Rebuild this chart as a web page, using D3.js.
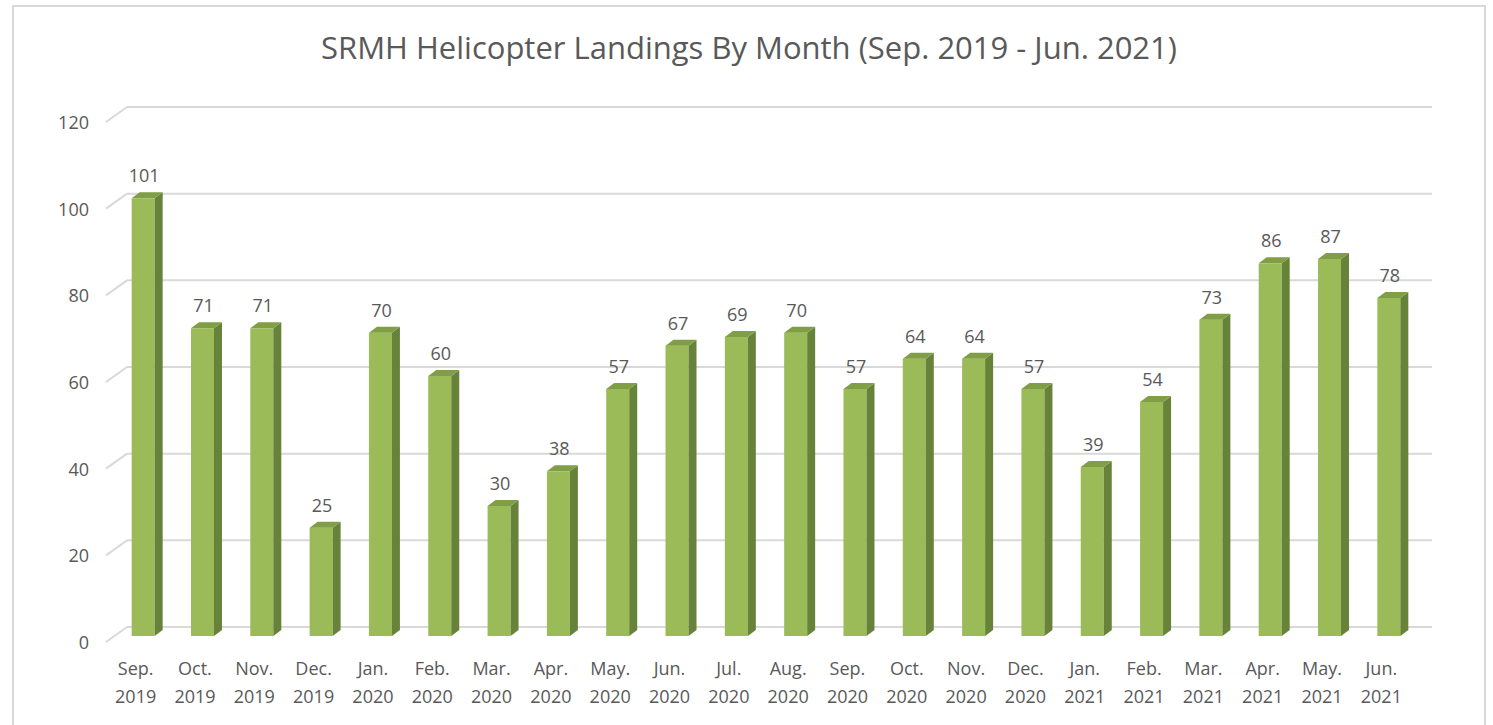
<!DOCTYPE html>
<html>
<head>
<meta charset="utf-8">
<script src="https://cdn.jsdelivr.net/npm/d3@7"></script>
<style>
  html, body { margin: 0; padding: 0; background: #fff; }
  svg { display: block; }
  text { font-family: "Open Sans", "Liberation Sans", sans-serif; fill: #595959; }
</style>
</head>
<body>
<svg id="chart" width="1493" height="725"></svg>
<script>
const monthLabels = ["Sep.", "Oct.", "Nov.", "Dec.", "Jan.", "Feb.", "Mar.", "Apr.", "May.", "Jun.", "Jul.", "Aug.",
                     "Sep.", "Oct.", "Nov.", "Dec.", "Jan.", "Feb.", "Mar.", "Apr.", "May.", "Jun."];
const yearLabels = ["2019", "2019", "2019", "2019", "2020", "2020", "2020", "2020", "2020", "2020", "2020", "2020",
                    "2020", "2020", "2020", "2020", "2021", "2021", "2021", "2021", "2021", "2021"];
const landings = [101, 71, 71, 25, 70, 60, 30, 38, 57, 67, 69, 70, 57, 64, 64, 57, 39, 54, 73, 86, 87, 78];
const yTicks = [0, 20, 40, 60, 80, 100, 120];
const chartTitle = "SRMH Helicopter Landings By Month (Sep. 2019 - Jun. 2021)";

const categories = monthLabels.map((m, i) => m + " " + yearLabels[i]);
const svg = d3.select("#chart");

// chart border
svg.append("rect").attr("x", 13).attr("y", 6).attr("width", 1472).attr("height", 740)
  .attr("fill", "#fff").attr("stroke", "#d9d9d9").attr("stroke-width", 2);

// 3D geometry
const depthX = 21, depthY = 15;
const frontLeft = 106, frontRight = 1411;
const floorFront = 642;
const floorBack = floorFront - depthY;
const barBase = 636;

const x = d3.scaleBand().domain(categories).range([frontLeft, frontRight]).paddingInner(0).paddingOuter(0);
const yBack = d3.scaleLinear().domain([0, 120]).range([floorBack, floorBack - 520]);
const yFront = d3.scaleLinear().domain([0, 120]).range([floorFront, floorFront - 520]);
const yBar = d3.scaleLinear().domain([0, 120]).range([barBase, barBase - 520]);

// gridlines (back wall + floor-side diagonal)
const grid = svg.append("g");
yTicks.forEach(t => {
  grid.append("line")
    .attr("x1", frontLeft + depthX).attr("x2", frontRight + depthX)
    .attr("y1", yBack(t)).attr("y2", yBack(t))
    .attr("stroke", "#d9d9d9").attr("stroke-width", 2);
  grid.append("line")
    .attr("x1", frontLeft).attr("x2", frontLeft + depthX)
    .attr("y1", yFront(t)).attr("y2", yBack(t))
    .attr("stroke", "#d9d9d9").attr("stroke-width", 2);
});

// y axis labels
svg.append("g").selectAll("text").data(yTicks).join("text")
  .attr("x", 89).attr("y", d => yFront(d))
  .attr("text-anchor", "end").attr("dominant-baseline", "central")
  .attr("font-size", 18).text(d => d);

// bars
const barW = 23, sideW = 8, topH = 6;
const barOffset = -4;
const bars = svg.append("g").selectAll("g").data(landings).join("g");
const bx = (d, i) => x(categories[i]) + x.bandwidth() / 2 + barOffset;

bars.append("rect")
  .attr("x", (d, i) => bx(d, i)).attr("y", d => yBar(d))
  .attr("width", barW).attr("height", d => yBar(0) - yBar(d))
  .attr("fill", "#9bbb59");
bars.append("path")
  .attr("d", (d, i) => {
    const x0 = bx(d, i) + barW, yt = yBar(d), yb = yBar(0);
    return `M${x0},${yt} L${x0 + sideW},${yt - topH} L${x0 + sideW},${yb - topH} L${x0},${yb} Z`;
  })
  .attr("fill", "#67833a");
bars.append("path")
  .attr("d", (d, i) => {
    const x0 = bx(d, i), yt = yBar(d);
    return `M${x0},${yt} L${x0 + sideW},${yt - topH} L${x0 + barW + sideW},${yt - topH} L${x0 + barW},${yt} Z`;
  })
  .attr("fill", "#7f9e45");

// data labels
bars.append("text")
  .attr("x", (d, i) => bx(d, i) + barW / 2 + 1)
  .attr("y", d => yBar(d) - 16)
  .attr("text-anchor", "middle").attr("font-size", 18)
  .text(d => d);

// x axis labels
const xl = svg.append("g").selectAll("text").data(categories).join("text")
  .attr("text-anchor", "middle").attr("font-size", 18);
xl.append("tspan").attr("x", d => x(d) + x.bandwidth() / 2).attr("y", 675).text((d, i) => monthLabels[i]);
xl.append("tspan").attr("x", d => x(d) + x.bandwidth() / 2).attr("y", 703).text((d, i) => yearLabels[i]);

// title
svg.append("text").attr("x", 749).attr("y", 59)
  .attr("text-anchor", "middle").attr("font-size", 31)
  .text(chartTitle);
</script>
</body>
</html>
